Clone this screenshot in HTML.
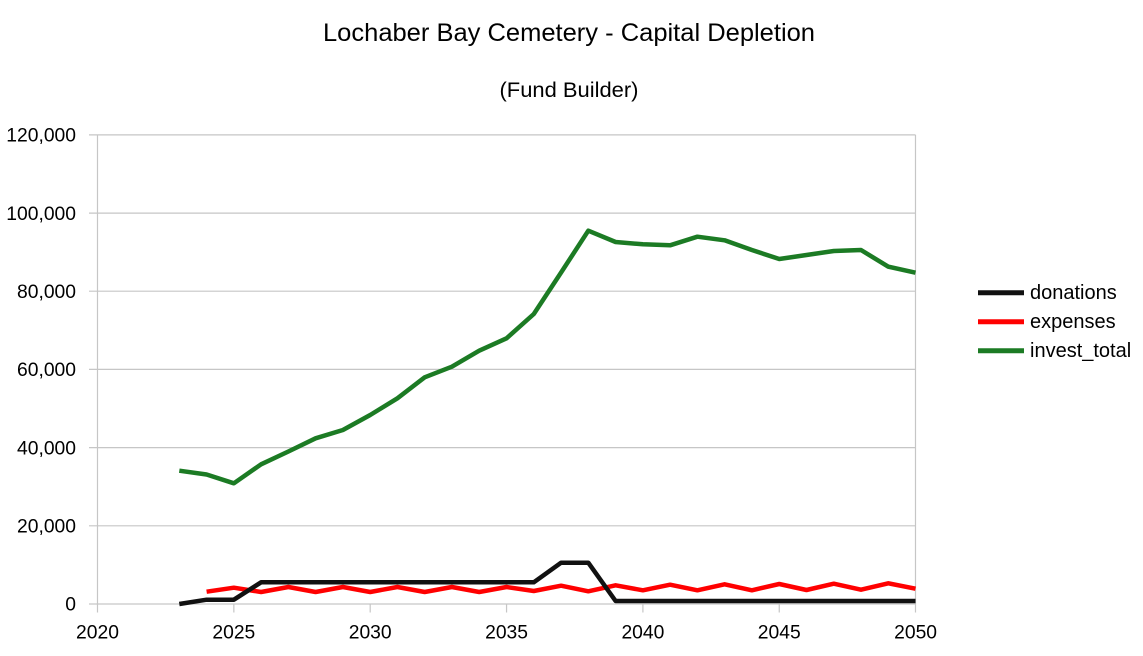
<!DOCTYPE html>
<html>
<head>
<meta charset="utf-8">
<style>
  html, body { margin: 0; padding: 0; background: #ffffff; }
  svg { display: block; }
  text { font-family: "Liberation Sans", Arial, sans-serif; fill: #000; }
</style>
</head>
<body>
<svg width="1143" height="656" viewBox="0 0 1143 656" xmlns="http://www.w3.org/2000/svg">
  <rect x="0" y="0" width="1143" height="656" fill="#ffffff"/>

  <!-- Titles -->
  <text x="569" y="41" font-size="25" text-anchor="middle" textLength="492" lengthAdjust="spacingAndGlyphs">Lochaber Bay Cemetery - Capital Depletion</text>
  <text x="569" y="97" font-size="21.5" text-anchor="middle" textLength="139" lengthAdjust="spacingAndGlyphs">(Fund Builder)</text>

  <!-- Gridlines -->
  <g stroke="#c6c6c6" stroke-width="1.2" fill="none">
    <line x1="89" y1="134.9" x2="915.5" y2="134.9"/>
    <line x1="89" y1="213.1" x2="915.5" y2="213.1"/>
    <line x1="89" y1="291.2" x2="915.5" y2="291.2"/>
    <line x1="89" y1="369.4" x2="915.5" y2="369.4"/>
    <line x1="89" y1="447.6" x2="915.5" y2="447.6"/>
    <line x1="89" y1="525.8" x2="915.5" y2="525.8"/>
    <line x1="89" y1="604" x2="915.5" y2="604"/>
    <!-- left axis & right border -->
    <line x1="97.5" y1="134.9" x2="97.5" y2="612.5"/>
    <line x1="915.5" y1="134.9" x2="915.5" y2="612.5"/>
    <!-- x ticks -->
    <line x1="233.85" y1="604" x2="233.85" y2="612.5"/>
    <line x1="370.2" y1="604" x2="370.2" y2="612.5"/>
    <line x1="506.55" y1="604" x2="506.55" y2="612.5"/>
    <line x1="642.9" y1="604" x2="642.9" y2="612.5"/>
    <line x1="779.25" y1="604" x2="779.25" y2="612.5"/>
  </g>

  <!-- Y labels -->
  <g font-size="19.3" text-anchor="end">
    <text x="76" y="141.6">120,000</text>
    <text x="76" y="219.8">100,000</text>
    <text x="76" y="297.9">80,000</text>
    <text x="76" y="376.1">60,000</text>
    <text x="76" y="454.3">40,000</text>
    <text x="76" y="532.5">20,000</text>
    <text x="76" y="610.7">0</text>
  </g>

  <!-- X labels -->
  <g font-size="19.3" text-anchor="middle">
    <text x="97.5" y="638.5">2020</text>
    <text x="233.85" y="638.5">2025</text>
    <text x="370.2" y="638.5">2030</text>
    <text x="506.55" y="638.5">2035</text>
    <text x="642.9" y="638.5">2040</text>
    <text x="779.25" y="638.5">2045</text>
    <text x="915.6" y="638.5">2050</text>
  </g>

  <!-- Series -->
  <g fill="none" stroke-width="4.5" stroke-linejoin="round" stroke-linecap="butt">
    <!-- invest_total -->
    <polyline stroke="#1c7b24" points="
      179.3,470.7 206.6,474.5 233.85,483.3 261.1,464.3 288.4,451.5 315.6,438.3 342.9,430
      370.2,415 397.4,398.3 424.7,377.3 451.9,366.7 479.2,350.7 506.55,338.3 533.8,314
      561.1,272.5 588.3,230.7 615.6,242 642.9,244.3 670.1,245.3 697.4,236.7 724.6,240.3
      751.9,250 779.25,259 806.5,255 833.8,251 861,250 888.3,266.7 915.5,272.7"/>
    <!-- expenses -->
    <polyline stroke="#ff0000" points="
      206.6,591.7 233.85,587.7 261.1,592 288.4,587 315.6,592 342.9,587
      370.2,592 397.4,587 424.7,592 451.9,587 479.2,592 506.55,587 533.8,591
      561.1,585.7 588.3,591.3 615.6,585.3 642.9,590.3 670.1,584.7 697.4,590.3 724.6,584.3
      751.9,590.3 779.25,584 806.5,590 833.8,583.7 861,589.7 888.3,583.3 915.5,588.7"/>
    <!-- donations -->
    <polyline stroke="#111111" points="
      179.3,604 206.6,599.7 233.85,599.7 261.1,582.3 533.8,582.3
      561.1,562.7 588.3,562.7 615.6,601 915.5,601"/>
  </g>

  <!-- Legend -->
  <g stroke-width="5">
    <line x1="978" y1="292.7" x2="1024" y2="292.7" stroke="#111111"/>
    <line x1="978" y1="321.7" x2="1024" y2="321.7" stroke="#ff0000"/>
    <line x1="978" y1="350.7" x2="1024" y2="350.7" stroke="#1c7b24"/>
  </g>
  <g font-size="20">
    <text x="1030" y="299">donations</text>
    <text x="1030" y="328">expenses</text>
    <text x="1030" y="357">invest_total</text>
  </g>
</svg>
</body>
</html>
